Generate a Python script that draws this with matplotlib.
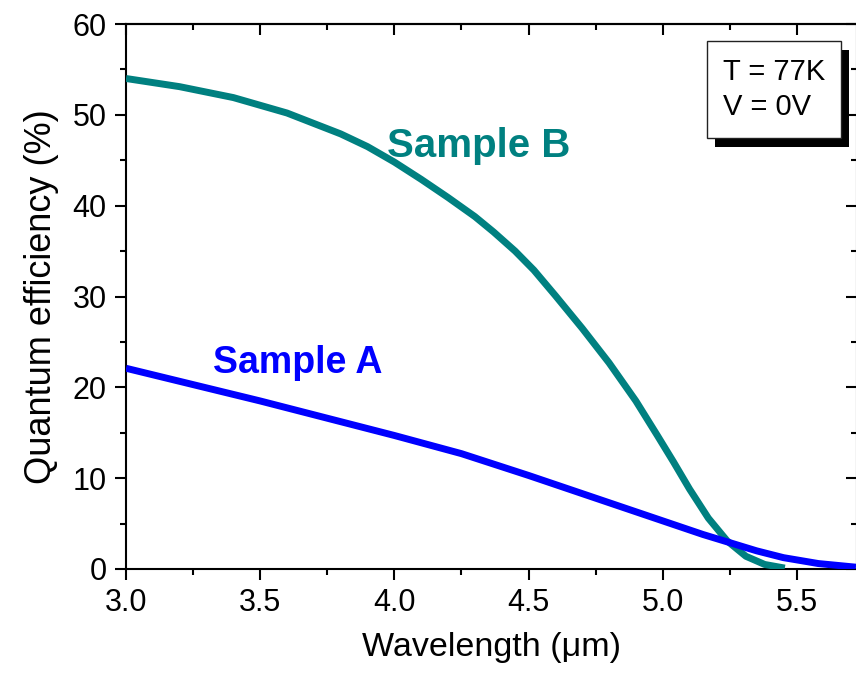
import matplotlib
matplotlib.use("Agg")
import matplotlib.pyplot as plt
from matplotlib.patches import Rectangle
from matplotlib.ticker import MultipleLocator

plt.rcParams['font.family'] = ['Liberation Sans', 'DejaVu Sans']

# Data
sample_b_x = [3.00, 3.20, 3.40, 3.60, 3.80, 3.90, 4.00, 4.10, 4.20, 4.30, 4.37, 4.45, 4.52,
              4.60, 4.70, 4.80, 4.90, 4.98, 5.04, 5.10, 5.17, 5.24, 5.31, 5.38, 5.455]
sample_b_y = [54.0, 53.1, 51.9, 50.2, 47.9, 46.5, 44.8, 42.9, 40.9, 38.8, 37.1, 35.0, 32.9,
              30.1, 26.5, 22.7, 18.5, 14.7, 11.8, 8.8, 5.6, 3.1, 1.4, 0.5, 0.1]

sample_a_x = [3.00, 3.25, 3.50, 3.75, 4.00, 4.25, 4.50, 4.75, 4.90, 5.05, 5.15, 5.25,
              5.35, 5.45, 5.58, 5.72]
sample_a_y = [22.1, 20.3, 18.5, 16.6, 14.7, 12.7, 10.3, 7.8, 6.3, 4.8, 3.8, 2.9,
              2.0, 1.25, 0.6, 0.2]

x_ticks = [3.0, 3.5, 4.0, 4.5, 5.0, 5.5]
y_ticks = [0, 10, 20, 30, 40, 50, 60]

teal = '#008080'
blue = '#0000FF'

fig = plt.figure(figsize=(8.56, 6.84), dpi=100)
ax = fig.add_axes([126/856, 1-569/684, (857-126)/856, (569-24)/684])

ax.plot(sample_b_x, sample_b_y, color=teal, lw=5, solid_capstyle='butt',
        solid_joinstyle='round', zorder=3)
ax.plot(sample_a_x, sample_a_y, color=blue, lw=5, solid_capstyle='butt',
        solid_joinstyle='round', zorder=3)

ax.set_xlim(3.0, 5.724)
ax.set_ylim(0, 60)
ax.set_xticks(x_ticks)
ax.set_xticklabels([f"{v:.1f}" for v in x_ticks])
ax.set_yticks(y_ticks)
ax.xaxis.set_minor_locator(MultipleLocator(0.25))
ax.yaxis.set_minor_locator(MultipleLocator(5))

for s in ax.spines.values():
    s.set_linewidth(1.5)

ax.tick_params(which='major', direction='out', length=8, width=1.5, labelsize=22, pad=6)
ax.tick_params(which='minor', direction='out', length=4, width=1.5)

# mirrored inward ticks top & right
top = ax.secondary_xaxis('top')
top.set_xticks(x_ticks)
top.xaxis.set_minor_locator(MultipleLocator(0.25))
top.tick_params(which='major', direction='in', length=8, width=1.5, labeltop=False)
top.tick_params(which='minor', direction='in', length=4, width=1.5)
top.spines['top'].set_linewidth(1.5)
right = ax.secondary_yaxis('right')
right.set_yticks(y_ticks)
right.yaxis.set_minor_locator(MultipleLocator(5))
right.tick_params(which='major', direction='in', length=8, width=1.5, labelright=False)
right.tick_params(which='minor', direction='in', length=4, width=1.5)

ax.set_xlabel('Wavelength (μm)', fontsize=24.5, labelpad=10)
ax.set_ylabel('Quantum efficiency (%)', fontsize=26, labelpad=10)

ax.text(4.315, 45.4, 'Sample B', color=teal, fontsize=29, fontweight='bold',
        ha='center', va='baseline')
ax.text(3.639, 21.6, 'Sample A', color=blue, fontsize=27, fontweight='bold',
        ha='center', va='baseline')

# Info box with shadow (figure coordinates)
bx0, bx1, by0, by1 = 707, 841, 41, 138
off = 8
fig.patches.append(Rectangle(((bx0+off)/856, 1-(by1+off+1)/684), (bx1-bx0)/856, (by1-by0)/684,
                             transform=fig.transFigure, facecolor='black', edgecolor='none', zorder=5))
fig.patches.append(Rectangle((bx0/856, 1-by1/684), (bx1-bx0)/856, (by1-by0)/684,
                             transform=fig.transFigure, facecolor='white', edgecolor='#222222',
                             lw=1.0, zorder=6))
fig.text(723/856, 1-72/684, 'T = 77K', fontsize=21, ha='left', va='center', zorder=7)
fig.text(723/856, 1-107/684, 'V = 0V', fontsize=21, ha='left', va='center', zorder=7)

fig.savefig('out.png', dpi=100)
